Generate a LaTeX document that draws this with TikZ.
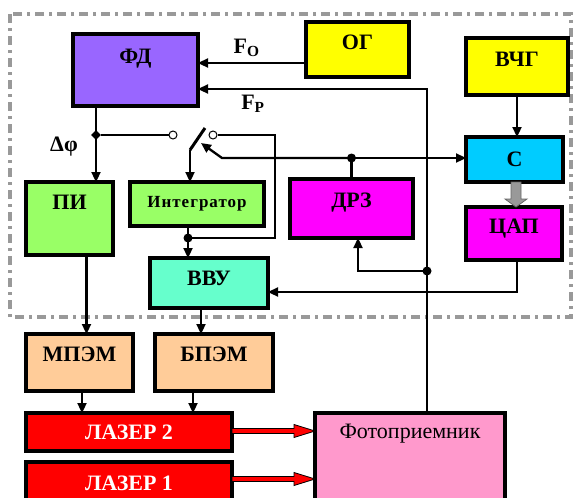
\documentclass[tikz,border=0pt]{standalone}
\usepackage{fontspec}
\setmainfont{Liberation Serif}
\usetikzlibrary{arrows.meta,calc,shapes.geometric}
\definecolor{fdcol}{HTML}{9966FF}
\definecolor{gencol}{HTML}{FFFF00}
\definecolor{ccol}{HTML}{00CCFF}
\definecolor{magcol}{HTML}{FF00FF}
\definecolor{picol}{HTML}{99FF66}
\definecolor{vvucol}{HTML}{66FFCC}
\definecolor{pemcol}{HTML}{FFCC99}
\definecolor{pdcol}{HTML}{FF99CC}

\begin{document}
\begin{tikzpicture}[x=1pt, y=-1pt, >={Triangle[length=10pt,width=9pt]},
  box/.style={draw, line width=3.2pt, inner sep=0pt, outer sep=0pt, anchor=north west,
    font=\fontsize{22}{24}\selectfont\bfseries},
  wire/.style={line width=2.3pt},
  dot/.style={circle, fill, inner sep=0pt, minimum size=9pt},
  term/.style={circle, draw, fill=white, line width=1pt, inner sep=0pt, minimum size=8pt},
  lbl/.style={font=\fontsize{22}{24}\selectfont\bfseries, inner sep=0pt},
  border/.style={draw=black!40, line width=3.2pt, dash pattern=on 9pt off 5pt on 3pt off 5pt},
  rarrow/.style={fill=red, draw=black, line width=0.8pt},
  garrow/.style={fill=black!40, draw=black!60, line width=0.8pt}]
  \clip (0,0) rectangle (574,498);
  % ---------------------------------------------------------------- control unit frame
  \draw[border] (10,14) rectangle (571,317);
  % ---------------------------------------------------------------- blocks
  \node[box, fill=fdcol, minimum width=125pt, text height=29pt, text depth=43pt] (fd) at (73,34) {ФД};
  \node[box, fill=gencol, minimum width=103pt, text height=27pt, text depth=28pt] (og) at (306,22) {ОГ};
  \node[box, fill=gencol, minimum width=102pt, text height=28pt, text depth=29pt] (vchg) at (466,38) {ВЧГ};
  \node[box, fill=ccol, minimum width=97pt, text height=29pt, text depth=16pt] (c) at (466,137) {С};
  \node[box, fill=magcol, minimum width=96pt, text height=26pt, text depth=27pt] (cap) at (466,207) {ЦАП};
  \node[box, fill=magcol, minimum width=123pt, text height=28pt, text depth=31pt] (drz) at (290,179) {ДРЗ};
  \node[box, fill=picol, minimum width=87pt, text height=27pt, text depth=46pt] (pi) at (26,182) {ПИ};
  \node[box, fill=picol, minimum width=134pt, text height=25pt, text depth=19pt,
    font=\fontsize{17}{19}\selectfont\bfseries\addfontfeatures{LetterSpace=6}] (integ) at (130,182) {Интегратор};
  \node[box, fill=vvucol, minimum width=118pt, text height=27pt, text depth=23pt] (vvu) at (150,258) {ВВУ};
  \node[box, fill=pemcol, minimum width=107pt, text height=27pt, text depth=30pt] (mpem) at (26,334) {МПЭМ};
  \node[box, fill=pemcol, minimum width=118pt, text height=27pt, text depth=30pt] (bpem) at (155,334) {БПЭМ};
  \node[box, fill=red, text=white, minimum width=206pt, text height=26pt, text depth=12pt] (las2) at (26,413) {ЛАЗЕР 2};
  \node[box, fill=red, text=white, minimum width=206pt, text height=28pt, text depth=30pt] (las1) at (26,462) {ЛАЗЕР 1};
  \node[box, fill=pdcol, minimum width=190pt, text height=25pt, text depth=90pt,
    font=\fontsize{22}{24}\selectfont] (pd) at (315,413) {Фотоприемник};
  % ---------------------------------------------------------------- junctions
  \coordinate (dphi) at (96,135);
  \coordinate (piv) at (190,150);
  \coordinate (bl) at (205,128);
  \coordinate (sw) at (275,238);
  \coordinate (ij) at (188,238);
  \coordinate (rz) at (351.5,158);
  \coordinate (kink) at (222,158);
  \coordinate (tip) at (201,143);
  \coordinate (fp) at (427,271);
  % ---------------------------------------------------------------- reference inputs of ФД
  \draw[wire,->] ([yshift=-13.5pt]og.west) coordinate (ogo) -- (fd.east |- ogo)
    node[lbl, pos=0.55, above=5pt] (fo) {F\textsubscript{O}};
  \draw[wire,->] (pd.north -| fp) -- (fp) |- ([yshift=-19pt]fd.east)
    node[lbl, pos=0.88, below=5pt] (fpl) {F\textsubscript{P}};
  % ---------------------------------------------------------------- phase error and switch
  \draw[wire,->] (fd.south -| dphi) -- (pi.north -| dphi);
  \node[diamond, fill, inner sep=0pt, minimum size=10pt] (dj) at (dphi) {};
  \node[lbl] (dlab) at (64,147) {Δφ};
  \node[term] (t1) at (173,135) {};
  \node[term] (t2) at (213,135) {};
  \draw[wire] (dj) -- (t1);
  \draw[line width=3pt] (piv) -- (bl);
  \draw[wire,->] (piv) -- (integ.north -| piv);
  \draw[wire] (t2) -| (sw) -- (ij);
  \draw[wire,->] (integ.south -| ij) -- (vvu.north -| ij);
  \node[dot] (ijd) at (ij) {};
  % ---------------------------------------------------------------- ДРЗ, С, ЦАП
  \draw[wire] (drz.north) -- (rz);
  \draw[wire,->] (rz) -- (c.west |- rz);
  \draw[wire,->] (rz) -- (kink) -- (tip);
  \node[dot] (rzd) at (rz) {};
  \draw[wire,->] (vchg.south) -- (c.north -| vchg.south);
  \filldraw[garrow] ([xshift=-3.5pt]c.south) -- ++(0,17) -- ++(-6,0) -- ([xshift=2pt]cap.north)
    -- ++(11,-8) -- ++(-6,0) -- ++(0,-17) -- cycle;
  \draw[wire,->] ([xshift=3pt]cap.south) |- ([yshift=-9pt]vvu.east);
  \draw[wire,->] (fp) -| ([xshift=6.5pt]drz.south);
  \node[dot] (fpd) at (fp) {};
  % ---------------------------------------------------------------- modulators and lasers
  \draw[wire,->] ([xshift=17pt]pi.south) coordinate (a1) -- (mpem.north -| a1);
  \draw[wire,->] ([xshift=-8pt]vvu.south) coordinate (a2) -- (bpem.north -| a2);
  \draw[wire,->] ([xshift=2.5pt]mpem.south) coordinate (a3) -- (las2.north -| a3);
  \draw[wire,->] ([xshift=-21pt]bpem.south) coordinate (a4) -- (las2.north -| a4);
  \foreach \src/\dy in {las2/1, las1/12} {
    \coordinate (s) at ([yshift=\dy pt]\src.east);
    \filldraw[rarrow] ($(s)+(0,-2.5)$) -- ($(pd.west |- s)+(-21,-2.5)$) -- ++(0,-4)
      -- (pd.west |- s) -- ($(pd.west |- s)+(-21,6.5)$) -- ++(0,-4) -- ($(s)+(0,2.5)$) -- cycle;
  }
\end{tikzpicture}
\end{document}
